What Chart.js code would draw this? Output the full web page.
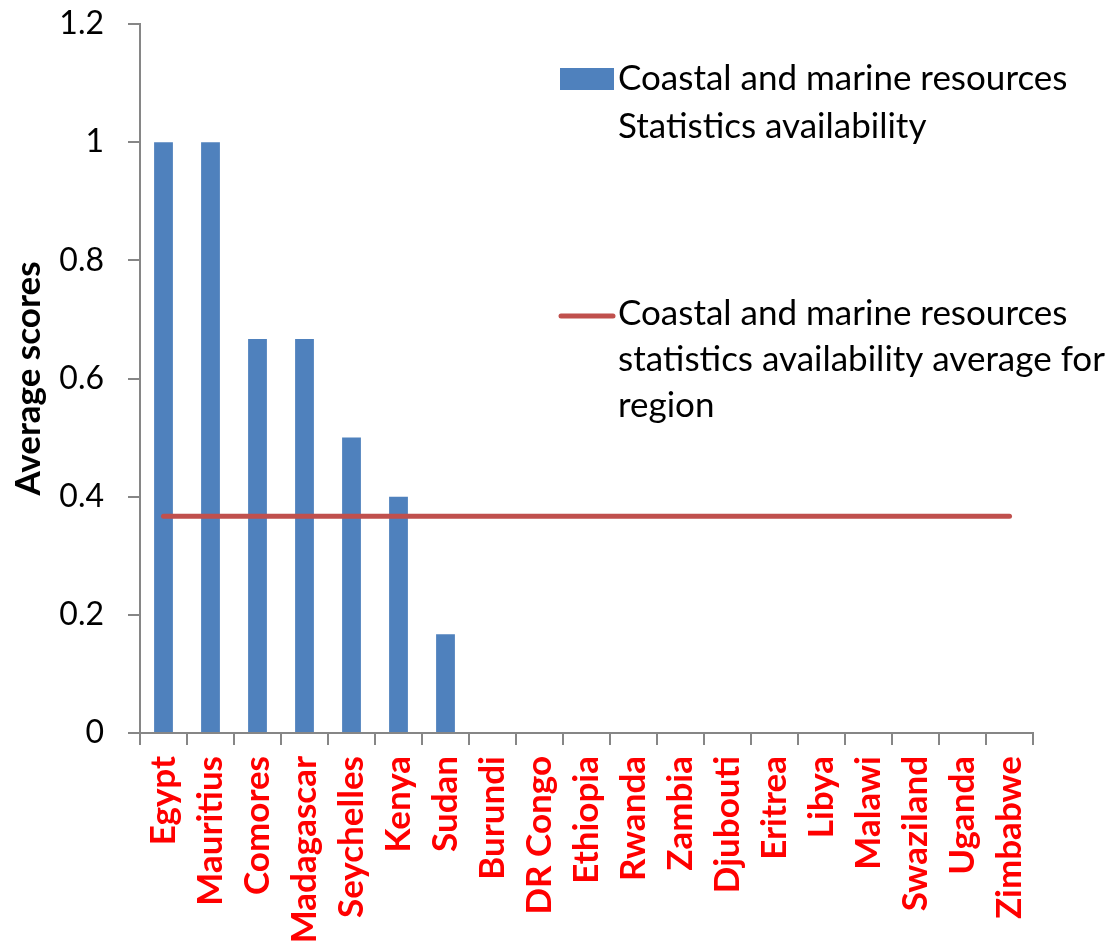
<!DOCTYPE html>
<html>
<head>
<meta charset="utf-8">
<script src="https://cdn.jsdelivr.net/npm/chart.js@4.4.0/dist/chart.umd.min.js"></script>
<style>
  html, body { margin: 0; padding: 0; background: #fff; }
  #wrap { width: 1118px; height: 943px; }
</style>
</head>
<body>
<div id="wrap"><canvas id="chart" width="1118" height="943"></canvas></div>
<script>
// ── Data ──────────────────────────────────────────────────────
const countries = ['Egypt', 'Mauritius', 'Comores', 'Madagascar', 'Seychelles', 'Kenya', 'Sudan',
    'Burundi', 'DR Congo', 'Ethiopia', 'Rwanda', 'Zambia', 'Djubouti', 'Eritrea', 'Libya',
    'Malawi', 'Swaziland', 'Uganda', 'Zimbabwe'];
const countryScores = [1, 1, 0.667, 0.667, 0.5, 0.4, 0.167, 0, 0, 0, 0, 0, 0, 0, 0, 0, 0, 0, 0];
const regionAverage = [0.367, 0.367, 0.367, 0.367, 0.367, 0.367, 0.367, 0.367, 0.367, 0.367,
    0.367, 0.367, 0.367, 0.367, 0.367, 0.367, 0.367, 0.367, 0.367];
const yTickLabels = ['0', '0.2', '0.4', '0.6', '0.8', '1', '1.2'];
const barLegend  = ['Coastal and marine resources', 'Statistics availability'];
const lineLegend = ['Coastal and marine resources', 'statistics availability average for', 'region'];

const BAR_COLOR  = '#4F81BD';
const LINE_COLOR = '#C0504D';
const AXIS_COLOR = '#868686';
const FONT = 'Lato, "Open Sans", sans-serif';

// ── Legend drawn inside the plot ─────────────────────────────
const sideLegend = {
    id: 'sideLegend',
    afterDraw(chart) {
        const ctx = chart.ctx;
        ctx.save();
        ctx.font = `35px ${FONT}`;
        ctx.fillStyle = '#000';
        ctx.textBaseline = 'middle';
        ctx.textAlign = 'left';

        // bar entry
        ctx.fillStyle = BAR_COLOR;
        ctx.fillRect(560, 68, 54, 22);
        ctx.fillStyle = '#000';
        barLegend.forEach((t, i) => ctx.fillText(t, 618, 79 + i * 48));

        // line entry
        ctx.strokeStyle = LINE_COLOR;
        ctx.lineWidth = 5;
        ctx.lineCap = 'round';
        ctx.beginPath();
        ctx.moveTo(561, 316);
        ctx.lineTo(613, 316);
        ctx.stroke();
        lineLegend.forEach((t, i) => ctx.fillText(t, 618, 314 + i * 46));
        ctx.restore();
    }
};

// ── Chart ─────────────────────────────────────────────────────
const ctx = document.getElementById('chart').getContext('2d');
new Chart(ctx, {
    type: 'bar',
    data: {
        labels: countries,
        datasets: [
            {
                type: 'line',
                label: lineLegend.join(' '),
                data: regionAverage,
                borderColor: LINE_COLOR,
                borderWidth: 5,
                borderCapStyle: 'round',
                pointRadius: 0,
                fill: false,
                tension: 0,
                order: 0
            },
            {
                type: 'bar',
                label: barLegend.join(' '),
                data: countryScores,
                backgroundColor: BAR_COLOR,
                borderWidth: 0,
                categoryPercentage: 1,
                barPercentage: 0.4,
                order: 1
            }
        ]
    },
    options: {
        responsive: false,
        animation: false,
        layout: { padding: { top: 24, right: 85, left: 0, bottom: 0 } },
        plugins: {
            legend: { display: false },
            tooltip: { enabled: false }
        },
        scales: {
            x: {
                grid: {
                    offset: true,
                    drawOnChartArea: false,
                    drawTicks: true,
                    tickLength: 12,
                    color: AXIS_COLOR,
                    lineWidth: 2
                },
                border: { display: true, color: AXIS_COLOR, width: 2 },
                ticks: {
                    autoSkip: false,
                    maxRotation: 90,
                    minRotation: 90,
                    padding: 11,
                    color: '#FF0000',
                    font: { family: FONT, size: 35, weight: 'bold' }
                },
                afterFit: s => { s.height = 210; }
            },
            y: {
                min: 0,
                max: 1.2,
                grid: {
                    drawOnChartArea: false,
                    drawTicks: true,
                    tickLength: 12,
                    color: AXIS_COLOR,
                    lineWidth: 2
                },
                border: { display: true, color: AXIS_COLOR, width: 2 },
                ticks: {
                    stepSize: 0.2,
                    padding: 24,
                    color: '#000',
                    font: { family: FONT, size: 32 },
                    callback: (v, i) => yTickLabels[i]
                },
                title: {
                    display: true,
                    text: 'Average scores',
                    color: '#000',
                    font: { family: FONT, size: 35, weight: 'bold' },
                    padding: { top: 8, bottom: 0 }
                },
                afterFit: s => {
                    s.width = 140;
                    // tick padding would otherwise push the plot top down
                    s.paddingTop = 0;
                    s.paddingBottom = 0;
                }
            }
        }
    },
    plugins: [sideLegend]
});
</script>
</body>
</html>
